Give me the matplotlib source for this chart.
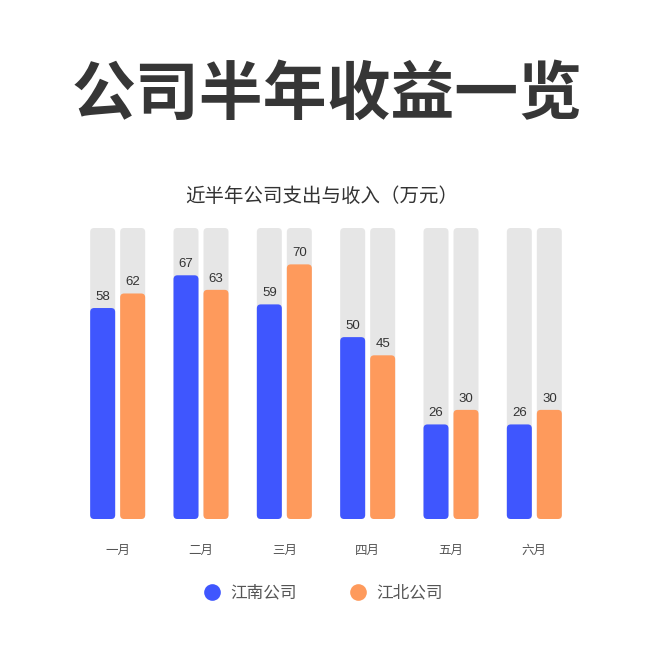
import matplotlib
matplotlib.use("Agg")
import matplotlib.pyplot as plt
from matplotlib.patches import FancyBboxPatch
from matplotlib.lines import Line2D

plt.rcParams['font.family'] = ['Noto Sans CJK SC', 'DejaVu Sans']

months = ['一月', '二月', '三月', '四月', '五月', '六月']
jiangnan = [58, 67, 59, 50, 26, 26]
jiangbei = [62, 63, 70, 45, 30, 30]
series_names = ['江南公司', '江北公司']
max_value = 80
title = '公司半年收益一览'
subtitle = '近半年公司支出与收入（万元）'

BLUE = '#3F56FE'
ORANGE = '#FE9A5C'
GRAY = '#E6E6E6'
TXT = '#333333'

W = H = 654
fig = plt.figure(figsize=(6.54, 6.54), dpi=100)
fig.patch.set_facecolor('white')

ax_l, ax_r, ax_b, ax_t = 76, 576, 519, 228
ax = fig.add_axes([ax_l / W, 1 - ax_b / H, (ax_r - ax_l) / W, (ax_b - ax_t) / H])
ax.set_xlim(-0.5, len(months) - 0.5)
ax.set_ylim(0, max_value)
ax.axis('off')

px_x = (ax_r - ax_l) / len(months)      # pixels per x unit
px_y = (ax_b - ax_t) / max_value        # pixels per y unit
bw = 25 / px_x
off = 15 / px_x
rad = 4 / px_x
aspect = px_x / px_y

x = list(range(len(months)))

def rbar(xc, h, color, z):
    bars = ax.bar([xc], [h], width=bw, color='none')
    for b in bars:
        p = FancyBboxPatch((b.get_x(), b.get_y()), b.get_width(), b.get_height(),
                           boxstyle=f"round,pad=0,rounding_size={rad}",
                           mutation_aspect=aspect, facecolor=color,
                           edgecolor='none', zorder=z)
        ax.add_patch(p)

for i in x:
    for sgn, vals, col in [(-1, jiangnan, BLUE), (1, jiangbei, ORANGE)]:
        xc = i + sgn * off
        rbar(xc, max_value, GRAY, 1)
        rbar(xc, vals[i], col, 2)
        ax.text(xc, vals[i] + 11 / px_y, str(vals[i]), ha='center', va='center',
                fontsize=9.5, color=TXT, zorder=3,
                family=['Liberation Sans', 'DejaVu Sans'])
    ax.text(i, -31 / px_y, months[i], ha='center', va='center', fontsize=9,
            color='#555555', clip_on=False)

fig.text(0.5, 1 - 95 / H, title, ha='center', va='center', fontsize=46,
         fontweight='black', color='#363636')
fig.text(322 / W, 1 - 196 / H, subtitle, ha='center', va='center', fontsize=14,
         color=TXT)

handles = [Line2D([], [], marker='o', linestyle='none', markersize=12,
                  markerfacecolor=c, markeredgecolor='none') for c in (BLUE, ORANGE)]
fig.legend(handles, series_names, loc='center', bbox_to_anchor=(323 / W, 1 - 593 / H),
           ncol=2, frameon=False, fontsize=12, labelcolor='#555555',
           handletextpad=0.6, columnspacing=3.2, handlelength=1.0)

fig.savefig('out.png', dpi=100, facecolor='white')
